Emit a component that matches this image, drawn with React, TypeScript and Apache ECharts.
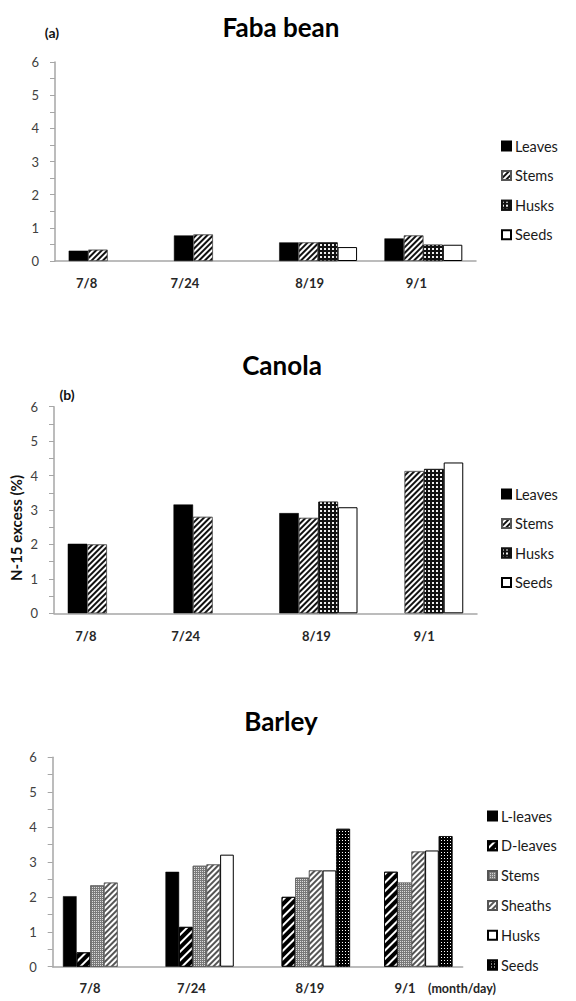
import React, { useEffect, useRef } from 'react';
import * as echarts from 'echarts';

// ---------- data ----------
const categories = ['7/8', '7/24', '8/19', '9/1'];

const fabaNames = ['Leaves', 'Stems', 'Husks', 'Seeds'];
const fabaLeaves = [0.31, 0.77, 0.56, 0.68];
const fabaStems = [0.34, 0.8, 0.56, 0.77];
const fabaHusks = [null, null, 0.56, 0.49];
const fabaSeeds = [null, null, 0.42, 0.49];

const canolaNames = ['Leaves', 'Stems', 'Husks', 'Seeds'];
const canolaLeaves = [2.02, 3.16, 2.91, null];
const canolaStems = [2.0, 2.8, 2.77, 4.13];
const canolaHusks = [null, null, 3.24, 4.19];
const canolaSeeds = [null, null, 3.08, 4.38];

const barleyNames = ['L-leaves', 'D-leaves', 'Stems', 'Sheaths', 'Husks', 'Seeds'];
const barleyLLeaves = [2.02, 2.72, null, null];
const barleyDLeaves = [0.41, 1.14, 2.0, 2.72];
const barleyStems = [2.33, 2.89, 2.55, 2.41];
const barleySheaths = [2.41, 2.93, 2.76, 3.3];
const barleyHusks = [null, 3.21, 2.76, 3.33];
const barleySeeds = [null, null, 3.95, 3.74];

const yMin = 0;
const yMax = 6;
const yStep = 1;

// ---------- styles ----------
const FONT = 'Lato, "Open Sans", "DejaVu Sans", sans-serif';
const AXIS_GREY = '#a6a6a6';
const ROT = -Math.PI / 4;

const solidBlack = { color: '#000', borderColor: '#000', borderWidth: 0.5 };
const fineHatch = {
  color: '#fff', borderColor: '#555', borderWidth: 0.6,
  decal: { symbol: 'rect', symbolSize: 1, color: '#111', dashArrayX: [1, 0], dashArrayY: [1.5, 1.5], rotation: ROT },
};
const darkChecker = {
  color: '#111', borderColor: '#111', borderWidth: 0.6,
  decal: { symbol: 'rect', symbolSize: 1, color: '#eee', dashArrayX: [1.5, 1.5], dashArrayY: [1.5, 1.5] },
};
const whiteBox = { color: '#fff', borderColor: '#000', borderWidth: 1 };
const wideHatch = {
  color: '#fff', borderColor: '#000', borderWidth: 0.8,
  decal: { symbol: 'rect', symbolSize: 1, color: '#000', dashArrayX: [1, 0], dashArrayY: [4, 2], rotation: ROT },
};
const greyDots = {
  color: '#7a7a7a', borderColor: '#555', borderWidth: 0.6,
  decal: { symbol: 'rect', symbolSize: 1, color: '#dcdcdc', dashArrayX: [1, 1], dashArrayY: [1, 1] },
};
const lightHatch = {
  color: '#fff', borderColor: '#555', borderWidth: 0.6,
  decal: { symbol: 'rect', symbolSize: 1, color: '#555', dashArrayX: [1, 0], dashArrayY: [1.5, 1.5], rotation: ROT },
};
const blackDots = {
  color: '#000', borderColor: '#000', borderWidth: 0.6,
  decal: { symbol: 'rect', symbolSize: 1, color: '#fff', dashArrayX: [1, 2], dashArrayY: [1, 2] },
};

// ---------- panels (absolute page coordinates) ----------
type Panel = {
  pageTop: number; height: number;
  title: string; titleX: number; titleY: number;
  tag?: string; tagX?: number; tagY?: number;
  grid: { left: number; top: number; width: number; height: number };
  gap: string; labelMargin: number; labelShift: number[];
  names: string[]; values: (number | null)[][]; styles: any[];
  legendLeft: number; legendTop: number; legendGap: number;
  yName?: string; yNameX?: number; yNameY?: number;
  extra?: { text: string; x: number; y: number };
};

const panels: Panel[] = [
  {
    pageTop: 0, height: 330,
    title: 'Faba bean', titleX: 281, titleY: 27,
    tag: '(a)', tagX: 52, tagY: 32,
    grid: { left: 55, top: 62, width: 421, height: 199 },
    gap: '26%', labelMargin: 15, labelShift: [-21, -28, -8.5, -7],
    names: fabaNames, values: [fabaLeaves, fabaStems, fabaHusks, fabaSeeds],
    styles: [solidBlack, fineHatch, darkChecker, whiteBox],
    legendLeft: 501, legendTop: 138, legendGap: 13.6,
  },
  {
    pageTop: 330, height: 345,
    title: 'Canola', titleX: 282, titleY: 365,
    tag: '(b)', tagX: 67, tagY: 394,
    grid: { left: 54, top: 406.7, width: 423, height: 206.6 },
    gap: '26%', labelMargin: 16, labelShift: [-21, -27, -2, 0],
    names: canolaNames, values: [canolaLeaves, canolaStems, canolaHusks, canolaSeeds],
    styles: [solidBlack, fineHatch, darkChecker, whiteBox],
    legendLeft: 501, legendTop: 486, legendGap: 13.5,
    yName: 'N-15 excess (%)', yNameX: 16, yNameY: 528,
  },
  {
    pageTop: 675, height: 326,
    title: 'Barley', titleX: 281, titleY: 721,
    grid: { left: 52.7, top: 757.3, width: 410, height: 209.4 },
    gap: '20%', labelMargin: 15, labelShift: [-14, -15, 1, -6.5],
    names: barleyNames,
    values: [barleyLLeaves, barleyDLeaves, barleyStems, barleySheaths, barleyHusks, barleySeeds],
    styles: [solidBlack, wideHatch, greyDots, lightHatch, whiteBox, blackDots],
    legendLeft: 487, legendTop: 808, legendGap: 13.8,
    extra: { text: '(month/day)', x: 462, y: 988 },
  },
];

function buildOption(p: Panel) {
  const t = p.pageTop;
  const rich: any = {};
  p.labelShift.forEach((s, i) => {
    rich['s' + i] = {
      fontFamily: FONT, fontWeight: 'bold', fontSize: 13, color: '#262626',
      padding: s < 0 ? [0, -2 * s, 0, 0] : [0, 0, 0, 2 * s],
    };
  });
  const graphic: any[] = [
    {
      type: 'text', x: p.titleX, y: p.titleY - t,
      style: { text: p.title, fontFamily: FONT, fontWeight: 'bold', fontSize: 26, fill: '#000', align: 'center', verticalAlign: 'middle' },
    },
  ];
  if (p.tag) {
    graphic.push({
      type: 'text', x: p.tagX, y: (p.tagY as number) - t,
      style: { text: p.tag, fontFamily: FONT, fontWeight: 'bold', fontSize: 14, fill: '#111', align: 'center', verticalAlign: 'middle' },
    });
  }
  if (p.yName) {
    graphic.push({
      type: 'text', x: p.yNameX, y: (p.yNameY as number) - t, rotation: Math.PI / 2,
      style: { text: p.yName, fontFamily: FONT, fontWeight: 'bold', fontSize: 15, fill: '#111', align: 'center', verticalAlign: 'middle' },
    });
  }
  if (p.extra) {
    graphic.push({
      type: 'text', x: p.extra.x, y: p.extra.y - t,
      style: { text: p.extra.text, fontFamily: FONT, fontWeight: 'bold', fontSize: 12.5, fill: '#262626', align: 'center', verticalAlign: 'middle' },
    });
  }
  return {
    animation: false,
    backgroundColor: '#fff',
    grid: {
      left: p.grid.left, top: p.grid.top - t, width: p.grid.width, height: p.grid.height,
      containLabel: false, outerBoundsMode: 'none',
    },
    legend: {
      orient: 'vertical', left: p.legendLeft, top: p.legendTop - t, padding: 0,
      itemWidth: 9, itemHeight: 9, itemGap: p.legendGap, icon: 'rect', selectedMode: false,
      textStyle: { fontFamily: FONT, fontSize: 14.5, lineHeight: 16, color: '#1a1a1a', padding: [0, 0, 0, -1] },
      data: p.names,
    },
    xAxis: {
      type: 'category', data: categories,
      axisLine: { show: true, lineStyle: { color: AXIS_GREY, width: 1.5 } },
      axisTick: { show: false },
      axisLabel: {
        margin: p.labelMargin, interval: 0,
        fontFamily: FONT, fontWeight: 'bold', fontSize: 13, color: '#262626',
        formatter: (v: string, i: number) => `{s${i}|${v}}`,
        rich,
      },
    },
    yAxis: {
      type: 'value', min: yMin, max: yMax, interval: yStep,
      axisLine: { show: true, lineStyle: { color: AXIS_GREY, width: 1.5 } },
      axisTick: { show: true, inside: false, length: 5, lineStyle: { color: AXIS_GREY, width: 1 } },
      minorTick: { show: true, splitNumber: 2, length: 5, lineStyle: { color: AXIS_GREY, width: 1 } },
      splitLine: { show: false },
      minorSplitLine: { show: false },
      axisLabel: { margin: 16, fontFamily: FONT, fontSize: 13, color: '#404040' },
    },
    series: p.names.map((n, k) => ({
      type: 'bar', name: n, data: p.values[k],
      barGap: '0%', barCategoryGap: p.gap,
      itemStyle: p.styles[k],
      emphasis: { disabled: true },
    })),
    graphic,
  };
}

function ChartPanel({ p }: { p: Panel }) {
  const ref = useRef<HTMLDivElement>(null);
  useEffect(() => {
    if (!ref.current) return;
    const chart = echarts.init(ref.current, undefined, { renderer: 'svg' });
    chart.setOption(buildOption(p) as any);
    return () => chart.dispose();
  }, [p]);
  return (
    <div
      ref={ref}
      style={{ position: 'absolute', left: 0, top: p.pageTop, width: 576, height: p.height }}
    />
  );
}

export default function App() {
  return (
    <div style={{ position: 'fixed', left: 0, top: 0, width: 576, height: 1001, background: '#fff' }}>
      {panels.map((p, i) => (
        <ChartPanel key={i} p={p} />
      ))}
    </div>
  );
}
